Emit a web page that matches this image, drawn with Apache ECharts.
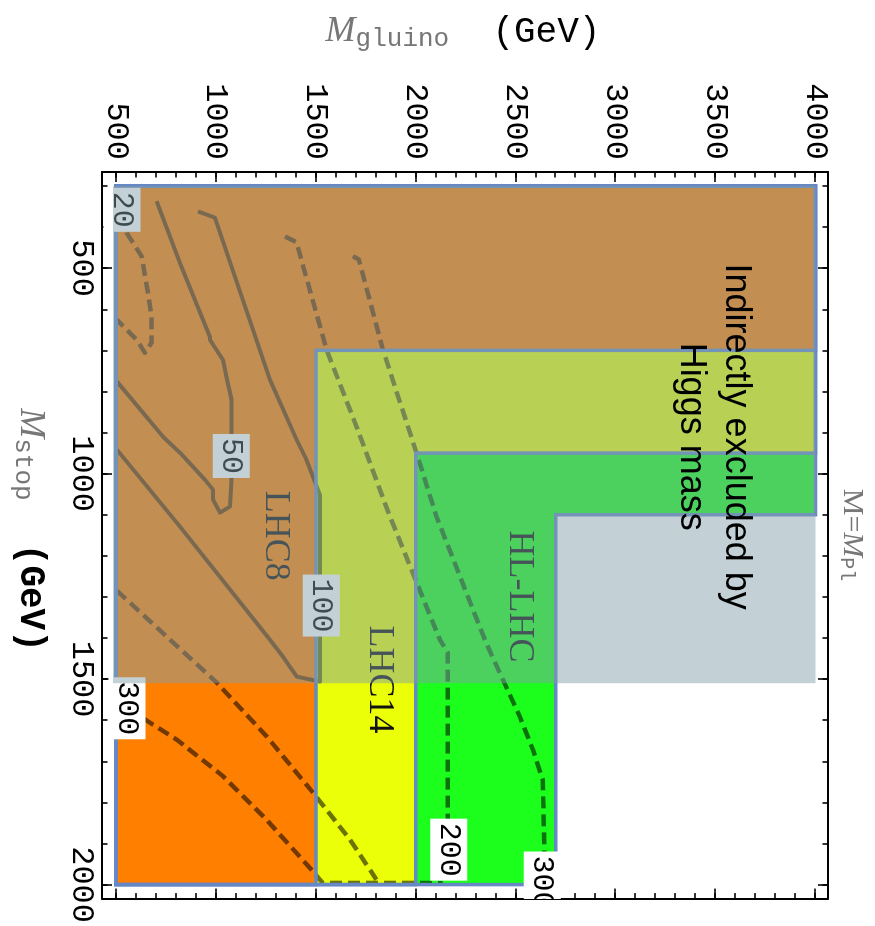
<!DOCTYPE html>
<html><head><meta charset="utf-8">
<script src="https://cdn.jsdelivr.net/npm/echarts@6/dist/echarts.min.js"></script>
<style>
html,body{margin:0;padding:0;background:#fff;overflow:hidden;width:875px;height:926px;}
#wrap{position:absolute;left:0;top:0;width:875px;height:926px;overflow:hidden;}
#chart{position:absolute;left:0;top:0;width:926px;height:875px;transform-origin:0 0;transform:translateX(875px) rotate(90deg);}
</style></head><body><div id="wrap"><div id="chart"></div></div>
<script>
// ---------------- data ----------------
const stopAxisRange = [266, 2034];
const gluinoAxisRange = [430, 4062];
const stopTicks = [500, 1000, 1500, 2000];
const stopMinorTicks = [300, 400, 500, 600, 700, 800, 900, 1000, 1100, 1200, 1300, 1400, 1500, 1600, 1700, 1800, 1900, 2000];
const gluinoTicks = [500, 1000, 1500, 2000, 2500, 3000, 3500, 4000];
const gluinoMinorTicks = [500, 600, 700, 800, 900, 1000, 1100, 1200, 1300, 1400, 1500, 1600, 1700, 1800, 1900, 2000, 2100, 2200, 2300, 2400, 2500, 2600, 2700, 2800, 2900, 3000, 3100, 3200, 3300, 3400, 3500, 3600, 3700, 3800, 3900, 4000];

// exclusion regions: excluded if stop < stopEdge OR gluino < gluinoEdge
const regionNames = ['HL-LHC', 'LHC14', 'LHC8'];
const regionStopEdge = [1100, 950, 700];
const regionGluinoEdge = [2700, 2000, 1500];
const regionStopSpan = [300, 2000];
const regionGluinoSpan = [500, 4000];
// indirect exclusion from the Higgs mass
const higgsStopSpan = [300, 1510];
const higgsGluinoSpan = [485, 4000];

// contours: [stop, gluino]
const contourSolid50 = [[337,703],[487,820],[667,970],[674,970],[723,1035],[771,1055],[803,1070],[820,1078],[1015,1078],[1080,1070],[1095,1020],[1063,985],[1039,985],[1015,945],[949,820],[910,735],[775,503]];
const contourSolid100 = [[362,910],[377,995],[771,1270],[917,1403],[966,1453],[1007,1485],[1039,1510],[1051,1520],[1494,1520],[1506,1520],[1494,1405],[1470,1370],[1445,1335],[1404,1270],[1129,820],[942,505]];
const contourDashed20 = [[370,540],[414,553],[471,628],[560,660],[617,678],[681,678],[706,645],[674,603],[625,503]];
const contourDashed200 = [[423,1345],[437,1403],[698,1553],[885,1703],[1104,1870],[1404,2120],[1436,2160],[1915,2160],[1996,2135]];
const contourDashed300 = [[471,1685],[479,1715],[698,1835],[949,2003],[1104,2103],[1404,2345],[1485,2420],[1591,2520],[1671,2585],[1745,2635],[1964,2645]];
const contourDashedLow = [[1285,505],[1404,770],[1508,1003],[1639,1253],[1776,1485],[1890,1670],[1988,1803]];
const contourDashed300Left = [[1569,565],[1593,628],[1647,803],[1736,1035],[1842,1253],[1964,1478],[1988,1520],[1996,1535],[1996,2135]];

const contourLabelText = ['20', '50', '100', '300', '200', '300'];
const contourLabelStop = [358, 957, 1321, 1571, 1915, 1995];
const contourLabelGluino = [530, 1077, 1527, 555, 2165, 2632];

const regionLabelText = ['LHC8', 'LHC14', 'HL-LHC'];
const regionLabelStop = [1151, 1501, 1299];
const regionLabelGluino = [1297, 1820, 2520];

const higgsLabelText = 'Indirectly excluded by\nHiggs mass';
const higgsLabelStop = 910;
const higgsLabelGluino = 3490;

// ---------------- styles ----------------
const regionColors = ['#1cff1c', '#eaff08', '#ff7f00'];
const outlineColor = '#6688c4';
const overlayColor = 'rgba(130,159,170,0.48)';
const contourColor = 'rgba(0,0,0,0.55)';
const mono = 'Liberation Mono';
const dash = [12, 6];

const chart = echarts.init(document.getElementById('chart'), null, {renderer: 'canvas', width: 926, height: 875});

const frameLine = {show: true, onZero: false, lineStyle: {color: '#000', width: 2}};
const tickStyle = {color: '#000', width: 1.6};
const plainNumber = v => String(v);
function xAx(pos, major) {
  return {
    type: 'value', min: stopAxisRange[0], max: stopAxisRange[1], position: pos,
    axisLine: major ? frameLine : {show: false, onZero: false},
    axisTick: {show: true, inside: true, length: major ? 10 : 5.5, customValues: major ? stopTicks : stopMinorTicks, lineStyle: tickStyle},
    axisLabel: (major && pos === 'bottom') ? {show: true, customValues: stopTicks, formatter: plainNumber, margin: 5, fontFamily: mono, fontSize: 32, color: '#000'} : {show: false},
    splitLine: {show: false}
  };
}
function yAx(pos, major) {
  return {
    type: 'value', min: gluinoAxisRange[0], max: gluinoAxisRange[1], position: pos,
    axisLine: major ? frameLine : {show: false, onZero: false},
    axisTick: {show: true, inside: true, length: major ? 10 : 5.5, customValues: major ? gluinoTicks : gluinoMinorTicks, lineStyle: tickStyle},
    axisLabel: (major && pos === 'left') ? {show: true, customValues: gluinoTicks, formatter: plainNumber, margin: 12, fontFamily: mono, fontSize: 32, color: '#000'} : {show: false},
    splitLine: {show: false}
  };
}

function lPolygon(api, s, g) {
  return [
    [regionStopSpan[0], regionGluinoSpan[0]], [regionStopSpan[0], regionGluinoSpan[1]],
    [s, regionGluinoSpan[1]], [s, g], [regionStopSpan[1], g], [regionStopSpan[1], regionGluinoSpan[0]]
  ].map(p => api.coord(p));
}

function contourSeries(data, dashed) {
  return {
    type: 'line', data: data, showSymbol: false, symbol: 'none', silent: true, z: 2,
    lineStyle: {color: contourColor, width: dashed ? 4.5 : 4, type: dashed ? dash : 'solid', join: 'round'},
    clip: true
  };
}

const regionData = regionNames.map((n, i) => [regionStopEdge[i], regionGluinoEdge[i], i]);

const option = {
  animation: false,
  backgroundColor: '#fff',
  grid: {left: 172, right: 27, top: 47, bottom: 102, show: false},
  xAxis: [xAx('bottom', true), xAx('top', true), xAx('bottom', false), xAx('top', false)],
  yAxis: [yAx('left', true), yAx('right', true), yAx('left', false), yAx('right', false)],
  series: [
    {
      type: 'custom', name: 'regions', z: 1, silent: true, clip: true,
      data: regionData,
      renderItem: (params, api) => ({
        type: 'polygon', shape: {points: lPolygon(api, api.value(0), api.value(1))},
        style: {fill: regionColors[params.dataIndex]}
      })
    },
    contourSeries(contourSolid50, false),
    contourSeries(contourSolid100, false),
    contourSeries(contourDashed20, true),
    contourSeries(contourDashed200, true),
    contourSeries(contourDashed300, true),
    contourSeries(contourDashedLow, true),
    contourSeries(contourDashed300Left, true),
    {
      type: 'custom', name: 'outlines', z: 3, silent: true, clip: true,
      data: regionData,
      renderItem: (params, api) => ({
        type: 'polygon', shape: {points: lPolygon(api, api.value(0), api.value(1))},
        style: {fill: 'none', stroke: outlineColor, lineWidth: 3.5, lineJoin: 'miter'}
      })
    },
    {
      type: 'custom', name: 'contour labels', z: 4, silent: true, clip: true,
      data: contourLabelText.map((t, i) => [contourLabelStop[i], contourLabelGluino[i]]),
      renderItem: (params, api) => {
        const p = api.coord([api.value(0), api.value(1)]);
        return {type: 'text', x: p[0], y: p[1], style: {
          text: contourLabelText[params.dataIndex], fontFamily: mono, fontSize: 30, fill: '#000',
          align: 'center', verticalAlign: 'middle', backgroundColor: '#fff', padding: [3, 4, 3, 4], lineHeight: 31
        }};
      }
    },
    {
      type: 'custom', name: 'region labels', z: 4, silent: true, clip: true,
      data: regionLabelText.map((t, i) => [regionLabelStop[i], regionLabelGluino[i]]),
      renderItem: (params, api) => {
        const p = api.coord([api.value(0), api.value(1)]);
        return {type: 'text', x: p[0], y: p[1], style: {
          text: regionLabelText[params.dataIndex], fontFamily: 'Liberation Serif', fontSize: 36, fill: '#111',
          align: 'center', verticalAlign: 'middle'
        }};
      }
    },
    {
      type: 'custom', name: 'Higgs', z: 5, silent: true, clip: true,
      data: [[higgsStopSpan[1], higgsGluinoSpan[1]]],
      renderItem: (params, api) => {
        const a = api.coord([higgsStopSpan[0], higgsGluinoSpan[1]]);
        const b = api.coord([higgsStopSpan[1], higgsGluinoSpan[0]]);
        return {type: 'rect', shape: {x: a[0], y: a[1], width: b[0] - a[0], height: b[1] - a[1]}, style: {fill: overlayColor}};
      }
    },
    {
      type: 'custom', name: 'Higgs label', z: 6, silent: true,
      data: [[higgsLabelStop, higgsLabelGluino]],
      renderItem: (params, api) => {
        const p = api.coord([api.value(0), api.value(1)]);
        return {type: 'text', x: p[0], y: p[1], style: {
          text: higgsLabelText, fontFamily: 'Liberation Sans', fontSize: 36, lineHeight: 45, fill: '#000',
          align: 'center', verticalAlign: 'middle'
        }};
      }
    }
  ],
  graphic: [
    {
      type: 'text', x: 530, y: 845, silent: true,
      style: {
        text: '{m|M}{s|stop}{u|  (GeV)}', align: 'center', verticalAlign: 'middle',
        rich: {
          m: {fontFamily: 'Liberation Serif', fontStyle: 'italic', fontSize: 36, fill: '#777', color: '#777'},
          s: {fontFamily: mono, fontSize: 26, fill: '#777', color: '#777', padding: [14, 0, 0, 0]},
          u: {fontFamily: mono, fontSize: 36, fontWeight: 'bold', fill: '#000', color: '#000'}
        }
      }
    },
    {
      type: 'text', x: 32, y: 412, rotation: Math.PI / 2, silent: true,
      style: {
        text: '{m|M}{s|gluino}{u|  (GeV)}', align: 'center', verticalAlign: 'middle',
        rich: {
          m: {fontFamily: 'Liberation Serif', fontStyle: 'italic', fontSize: 36, fill: '#777', color: '#777'},
          s: {fontFamily: mono, fontSize: 26, fill: '#777', color: '#777', padding: [14, 0, 0, 0]},
          u: {fontFamily: mono, fontSize: 36, fill: '#000', color: '#000'}
        }
      }
    },
    {
      type: 'text', x: 535, y: 23, silent: true,
      style: {
        text: '{a|M=}{b|M}{c|Pl}', align: 'center', verticalAlign: 'middle',
        rich: {
          a: {fontFamily: 'Liberation Serif', fontSize: 30, fill: '#777', color: '#777'},
          b: {fontFamily: 'Liberation Serif', fontStyle: 'italic', fontSize: 30, fill: '#777', color: '#777'},
          c: {fontFamily: mono, fontSize: 20, fill: '#777', color: '#777', padding: [12, 0, 0, 0]}
        }
      }
    }
  ]
};
chart.setOption(option);
</script></body></html>
